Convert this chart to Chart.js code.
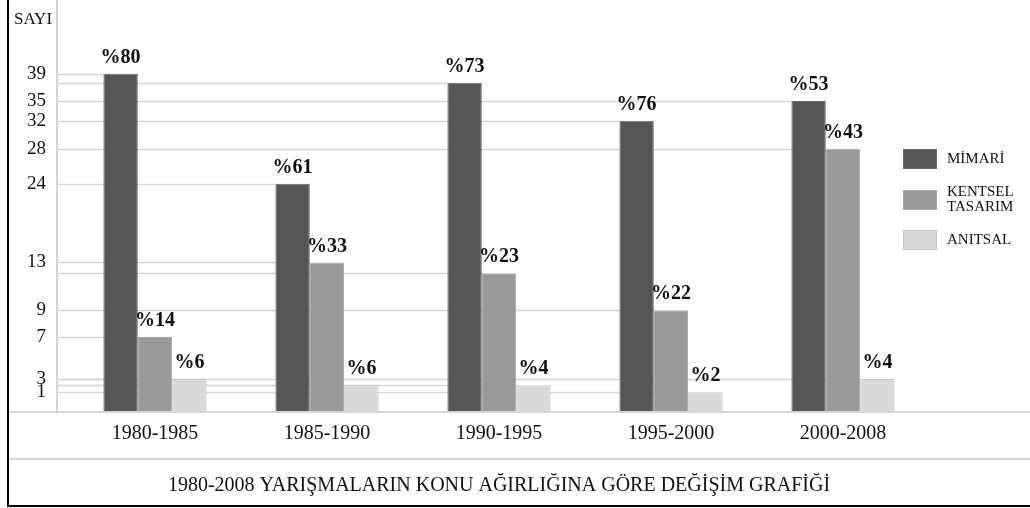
<!DOCTYPE html>
<html lang="tr">
<head>
    <meta charset="UTF-8">
    <title>1980-2008 Yarışmalar</title>
    <style>
        html, body { margin: 0; padding: 0; background: #ffffff; }
        canvas { display: block; }
    </style>
</head>
<body>
    <canvas id="grafik" width="1030" height="508"></canvas>

    <script src="https://cdn.jsdelivr.net/npm/chart.js"></script>
    <script>
        // dati
        const periodi = ['1980-1985', '1985-1990', '1990-1995', '1995-2000', '2000-2008'];
        const mimari = [39, 24, 38, 32, 35];
        const kentsel = [7, 13, 12, 9, 28];
        const anitsal = [3, 2, 2, 1, 3];
        const yuzdeMimari = [80, 61, 73, 76, 53];
        const yuzdeKentsel = [14, 33, 23, 22, 43];
        const yuzdeAnitsal = [6, 6, 4, 2, 4];
        const yTicks = [1, 3, 7, 9, 13, 24, 28, 32, 35, 39];

        const SERIF = '"Liberation Serif", "DejaVu Serif", serif';
        const GRIGIO_LINEE = '#d6d6d6';

        // scala lineare a tratti: l'asse originale non e' in proporzione
        class KnotScale extends Chart.LinearScale {
            knotDecimal(v) {
                const k = this.options.knots;
                let i = 1;
                while (i < k.length - 1 && v > k[i][0]) i++;
                const [v0, d0] = k[i - 1];
                const [v1, d1] = k[i];
                return d0 + (v - v0) / (v1 - v0) * (d1 - d0);
            }
            getPixelForValue(v) {
                return this.getPixelForDecimal(this.knotDecimal(v));
            }
            getValueForPixel(p) {
                const d = this.getDecimalForPixel(p);
                const k = this.options.knots;
                let i = 1;
                while (i < k.length - 1 && d > k[i][1]) i++;
                const [v0, d0] = k[i - 1];
                const [v1, d1] = k[i];
                return v0 + (d - d0) / (d1 - d0) * (v1 - v0);
            }
        }
        KnotScale.id = 'knot';
        Chart.register(KnotScale);

        // linee orizzontali dall'asse fino a ogni barra
        const lineeBarre = {
            id: 'lineeBarre',
            beforeDatasetsDraw(chart) {
                const ctx = chart.ctx;
                const left = chart.scales.y.right;
                ctx.save();
                ctx.strokeStyle = GRIGIO_LINEE;
                ctx.lineWidth = 1.5;
                chart.data.datasets.forEach((ds, i) => {
                    chart.getDatasetMeta(i).data.forEach(bar => {
                        const y = Math.round(bar.y) + 0.5;
                        ctx.beginPath();
                        ctx.moveTo(left, y);
                        ctx.lineTo(bar.x - bar.width / 2, y);
                        ctx.stroke();
                    });
                });
                ctx.restore();
            }
        };

        // etichette percentuali sopra le barre
        const etichette = {
            id: 'etichette',
            afterDatasetsDraw(chart) {
                const ctx = chart.ctx;
                ctx.save();
                ctx.font = 'bold 20px ' + SERIF;
                ctx.fillStyle = '#111111';
                ctx.textAlign = 'center';
                ctx.textBaseline = 'bottom';
                chart.data.datasets.forEach((ds, i) => {
                    chart.getDatasetMeta(i).data.forEach((bar, j) => {
                        ctx.fillText('%' + ds.yuzde[j], bar.x, bar.y - 6);
                    });
                });
                ctx.restore();
            }
        };

        // cornice tipo tabella, "SAYI" e legenda a destra
        const cornice = {
            id: 'cornice',
            afterDraw(chart) {
                const ctx = chart.ctx;
                const area = chart.chartArea;
                const xScale = chart.scales.x;
                const W = chart.width, H = chart.height;
                ctx.save();
                ctx.strokeStyle = GRIGIO_LINEE;
                ctx.lineWidth = 2;
                [area.bottom, xScale.bottom].forEach(y => {
                    ctx.beginPath();
                    ctx.moveTo(8, y);
                    ctx.lineTo(W, y);
                    ctx.stroke();
                });
                ctx.strokeStyle = '#000000';
                ctx.lineWidth = 2;
                ctx.beginPath();
                ctx.moveTo(8, 0);
                ctx.lineTo(8, H - 2);
                ctx.lineTo(W, H - 2);
                ctx.stroke();

                ctx.fillStyle = '#111111';
                ctx.font = '17px ' + SERIF;
                ctx.textAlign = 'center';
                ctx.textBaseline = 'middle';
                ctx.fillText('SAYI', 33, 20);

                // legenda
                const rows = [159, 200, 240];
                ctx.font = '15px ' + SERIF;
                ctx.textAlign = 'left';
                chart.data.datasets.forEach((ds, i) => {
                    const yc = rows[i];
                    ctx.fillStyle = ds.backgroundColor;
                    ctx.fillRect(903, yc - 10, 34, 20);
                    ctx.strokeStyle = ds.borderColor;
                    ctx.lineWidth = 1;
                    ctx.strokeRect(903.5, yc - 9.5, 33, 19);
                    ctx.fillStyle = '#111111';
                    const lines = Array.isArray(ds.label) ? ds.label : [ds.label];
                    lines.forEach((t, k) => {
                        ctx.fillText(t, 947, yc + (k - (lines.length - 1) / 2) * 15);
                    });
                });
                ctx.restore();
            }
        };

        const ctx = document.getElementById('grafik').getContext('2d');
        const grafico = new Chart(ctx, {
            type: 'bar',
            data: {
                labels: periodi,
                datasets: [
                    { label: 'MİMARİ', data: mimari, yuzde: yuzdeMimari,
                      backgroundColor: '#555555', borderColor: '#6a6a6a' },
                    { label: ['KENTSEL', 'TASARIM'], data: kentsel, yuzde: yuzdeKentsel,
                      backgroundColor: '#999999', borderColor: '#a8a8a8' },
                    { label: 'ANITSAL', data: anitsal, yuzde: yuzdeAnitsal,
                      backgroundColor: '#d9d9d9', borderColor: '#c6c6c6' }
                ]
            },
            options: {
                responsive: false,
                animation: false,
                layout: { padding: { left: 9, right: 101, top: 0, bottom: 0 } },
                datasets: {
                    bar: { categoryPercentage: 0.6, barPercentage: 1.0, borderWidth: 1 }
                },
                scales: {
                    x: {
                        grid: { display: false, drawTicks: false },
                        border: { display: false },
                        ticks: {
                            color: '#111111',
                            font: { family: SERIF, size: 20 },
                            padding: 10,
                            maxRotation: 0
                        },
                        afterFit(scale) { scale.height = 47; }
                    },
                    y: {
                        type: 'knot',
                        weight: 1,
                        min: 0,
                        max: 47,
                        knots: [[0, 0], [1, 0.048], [2, 0.065], [3, 0.080], [7, 0.182], [9, 0.247],
                                [12, 0.337], [13, 0.363], [24, 0.554], [28, 0.639], [32, 0.707],
                                [35, 0.755], [38, 0.799], [39, 0.821], [47, 1.0]],
                        grid: { display: false, drawTicks: false },
                        border: { display: true, color: GRIGIO_LINEE, width: 2 },
                        ticks: {
                            color: '#111111',
                            font: { family: SERIF, size: 19 },
                            padding: 11
                        },
                        afterBuildTicks(scale) {
                            scale.ticks = yTicks.map(v => ({ value: v }));
                        },
                        afterFit(scale) {
                            scale.width = 48;
                            scale.paddingTop = 0;
                            scale.paddingBottom = 0;
                        }
                    },
                    // spazio vuoto tra la colonna dei valori e i gruppi di barre
                    yVuoto: {
                        type: 'linear',
                        position: 'left',
                        weight: 0,
                        grid: { display: false, drawTicks: false },
                        border: { display: false },
                        ticks: { display: false },
                        afterFit(scale) {
                            scale.width = 12;
                            scale.paddingTop = 0;
                            scale.paddingBottom = 0;
                        }
                    }
                },
                plugins: {
                    legend: { display: false },
                    tooltip: { enabled: false },
                    title: {
                        display: true,
                        position: 'bottom',
                        fullSize: false,
                        text: '1980-2008 YARIŞMALARIN KONU AĞIRLIĞINA GÖRE DEĞİŞİM GRAFİĞİ',
                        color: '#111111',
                        font: { family: SERIF, size: 20, weight: 'normal' },
                        padding: { top: 15, bottom: 10 }
                    }
                }
            },
            plugins: [lineeBarre, etichette, cornice]
        });
    </script>
</body>
</html>
